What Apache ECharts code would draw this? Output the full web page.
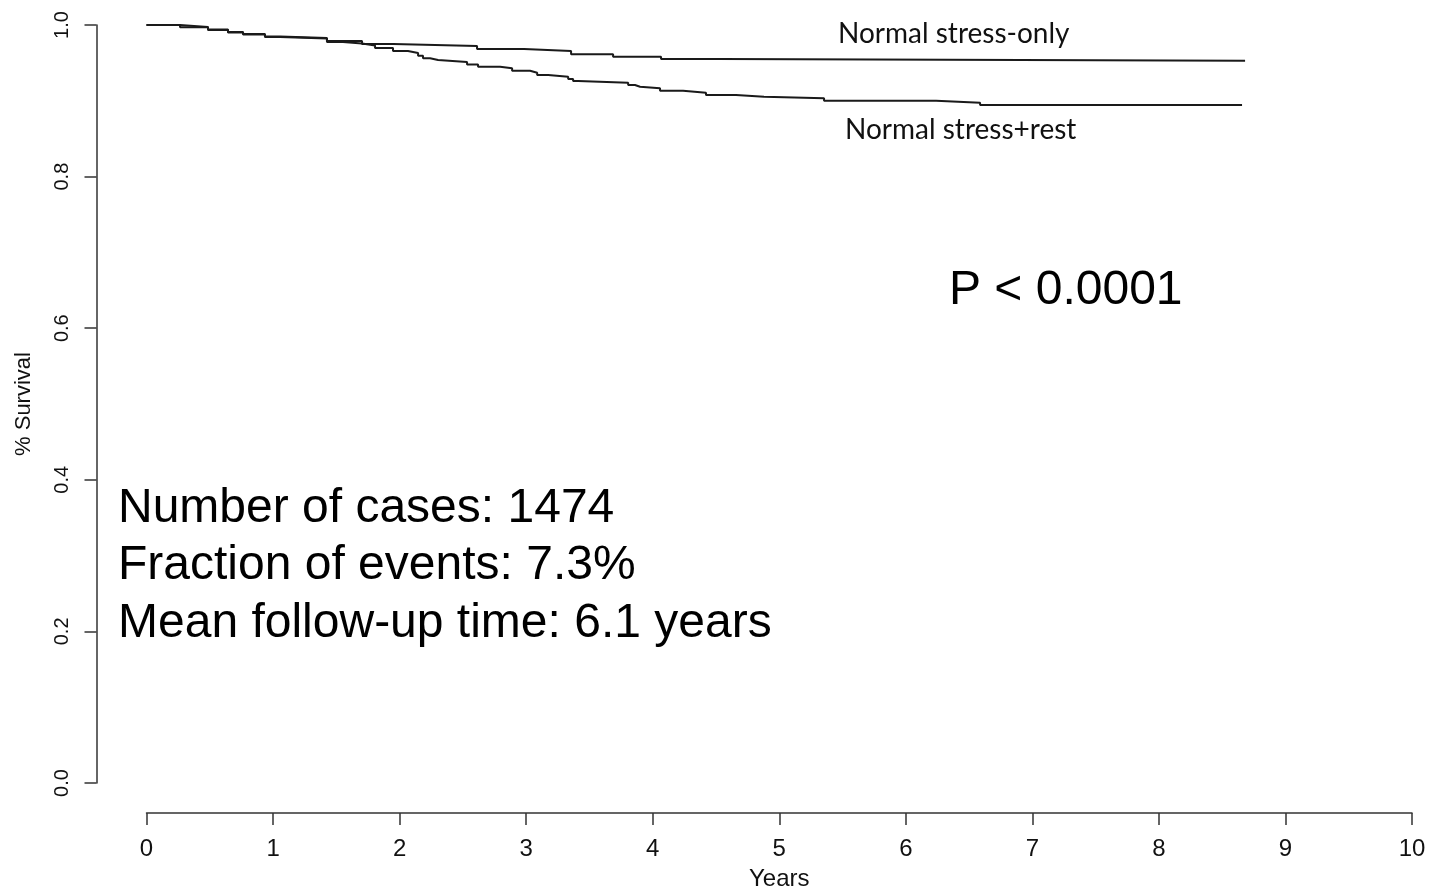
<!DOCTYPE html>
<html style="height: 100%">
<head>
    <meta charset="utf-8">
    <script src="https://cdn.jsdelivr.net/npm/echarts@6/dist/echarts.min.js"></script>
</head>
<body style="height: 100%; margin: 0; background: #fff">
    <div id="container" style="width: 1432px; height: 889px;"></div>
    <script>
        // Kaplan-Meier steps: [years, survival]
        var stressOnlyYears = [0, 0.265, 0.486, 0.644, 0.763, 0.936, 1.055, 1.426, 1.703, 1.948, 2.612, 2.983, 3.355, 3.687, 4.066, 4.540, 8.681];
        var stressOnlySurv = [1.000, 0.9974, 0.9941, 0.9908, 0.9881, 0.9848, 0.9828, 0.9789, 0.9749, 0.9723, 0.9683, 0.9657, 0.9613, 0.9582, 0.9551, 0.9529, 0.9529];

        var stressRestYears = [0, 0.265, 0.486, 0.644, 0.763, 0.936, 1.055, 1.426, 1.553, 1.703, 1.806, 1.948, 2.066, 2.146, 2.185, 2.241, 2.304, 2.533, 2.620, 2.794, 2.889, 3.031, 3.087, 3.174, 3.332, 3.371, 3.411, 3.806, 3.860, 3.900, 4.058, 4.240, 4.421, 4.658, 4.880, 5.354, 6.239, 6.587, 8.657];
        var stressRestSurv = [1.000, 0.9970, 0.9935, 0.9902, 0.9875, 0.9842, 0.9822, 0.9776, 0.9756, 0.9730, 0.9697, 0.9657, 0.9631, 0.9595, 0.9561, 0.9538, 0.9512, 0.9479, 0.9450, 0.9429, 0.9397, 0.9371, 0.9340, 0.9318, 0.9288, 0.9261, 0.9239, 0.9208, 0.9186, 0.9165, 0.9133, 0.9107, 0.9077, 0.9054, 0.9033, 0.9001, 0.8975, 0.8945, 0.8945];

        var xTicks = ['0', '1', '2', '3', '4', '5', '6', '7', '8', '9', '10'];
        var yTicks = ['0.0', '0.2', '0.4', '0.6', '0.8', '1.0'];

        var infoLines = ['Number of cases: 1474', 'Fraction of events: 7.3%', 'Mean follow-up time: 6.1 years'];

        function pairs(xs, ys) {
            var out = [];
            for (var i = 0; i < xs.length; i++) {
                out.push([xs[i], ys[i]]);
            }
            return out;
        }

        var dom = document.getElementById('container');
        var myChart = echarts.init(dom, null, { renderer: 'canvas' });

        var axisColor = '#333';
        var textFont = 'Liberation Sans, Arial, sans-serif';

        var option = {
            animation: false,
            backgroundColor: '#fff',
            grid: { left: 146.5, right: 20, top: 25, bottom: 106, containLabel: false, outerBoundsMode: 'none' },
            xAxis: {
                type: 'value',
                min: 0, max: 10, interval: 1,
                offset: 30,
                name: 'Years',
                nameLocation: 'middle',
                nameGap: 54,
                nameTextStyle: { fontFamily: textFont, fontSize: 24, color: '#111' },
                axisLine: { show: true, onZero: false, lineStyle: { color: axisColor, width: 1.5 } },
                axisTick: { show: true, length: 12, lineStyle: { color: axisColor, width: 1.5 } },
                axisLabel: {
                    margin: 24, fontFamily: textFont, fontSize: 24, color: '#111',
                    formatter: function (v) { return xTicks[Math.round(v)]; }
                },
                splitLine: { show: false }
            },
            yAxis: {
                type: 'value',
                min: 0, max: 1, interval: 0.2,
                offset: 50,
                name: '% Survival',
                nameLocation: 'middle',
                nameGap: 62,
                nameTextStyle: { fontFamily: textFont, fontSize: 22, color: '#111' },
                axisLine: { show: true, onZero: false, lineStyle: { color: axisColor, width: 1.5 } },
                axisTick: { show: true, length: 12, lineStyle: { color: axisColor, width: 1.5 } },
                axisLabel: {
                    rotate: 90, margin: 24, fontFamily: textFont, fontSize: 20, color: '#111',
                    formatter: function (v) { return yTicks[Math.round(v * 5)]; }
                },
                splitLine: { show: false }
            },
            series: [
                {
                    name: 'Normal stress-only',
                    type: 'line',
                    step: 'end',
                    symbol: 'none',
                    lineStyle: { color: '#1a1a1a', width: 2 },
                    data: pairs(stressOnlyYears, stressOnlySurv)
                },
                {
                    name: 'Normal stress+rest',
                    type: 'line',
                    step: 'end',
                    symbol: 'none',
                    lineStyle: { color: '#1a1a1a', width: 2 },
                    data: pairs(stressRestYears, stressRestSurv)
                }
            ],
            graphic: [
                {
                    type: 'text', left: 838, top: 20,
                    style: { text: 'Normal stress-only', font: '28px Lato, sans-serif', fill: '#111' }
                },
                {
                    type: 'text', left: 845, top: 116,
                    style: { text: 'Normal stress+rest', font: '28px Lato, sans-serif', fill: '#111' }
                },
                {
                    type: 'text', left: 949, top: 267,
                    style: { text: 'P < 0.0001', font: '48px ' + textFont, fill: '#000' }
                },
                {
                    type: 'text', left: 118, top: 480,
                    style: { text: infoLines.join('\n'), font: '48px ' + textFont, lineHeight: 57.5, fill: '#000' }
                }
            ]
        };

        myChart.setOption(option);
        window.addEventListener('resize', myChart.resize);
    </script>
</body>
</html>
